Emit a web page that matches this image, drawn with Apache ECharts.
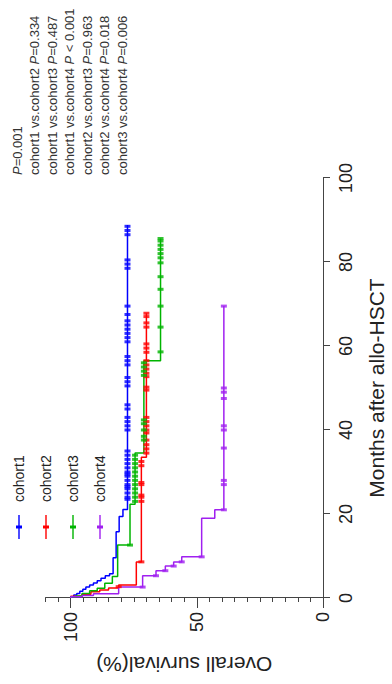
<!DOCTYPE html>
<html>
<head>
<meta charset="utf-8">
<script src="https://cdn.jsdelivr.net/npm/echarts@6/dist/echarts.min.js"></script>
<style>
html, body { margin: 0; padding: 0; background: #fff; }
body { width: 392px; height: 684px; overflow: hidden; position: relative; }
/* the plot is drawn landscape and turned a quarter turn to the left, like the scan */
#chart {
  position: absolute; left: 0; top: 0;
  width: 684px; height: 392px;
  transform-origin: 0 0;
  transform: translate(0, 684px) rotate(-90deg);
}
</style>
</head>
<body>
<div id="chart"></div>
<script>
// Kaplan-Meier steps: time (months) where survival changes, survival (%) after it
var c1Time = [0, 0.3, 0.7, 1.1, 1.6, 2.1, 2.6, 3.1, 3.6, 4.1, 4.7, 5.3, 5.8, 9.6, 15.8, 19.4, 21.1];
var c1Surv = [100, 98.8, 97.6, 96.4, 95.2, 94, 92.5, 91, 89.5, 88, 86.3, 84.6, 83.2, 82, 80.8, 79.3, 77.5];
var c1End = 88.8;
var c1Cens = [23.5, 24, 25, 26, 26.5, 27, 28, 29, 29.5, 30, 31, 32, 33, 34, 35, 40, 41, 42, 43, 45, 46,
              50.5, 51.5, 52.5, 55.5, 56.5, 57.5, 61, 62, 63, 64, 65, 66, 67.5, 69.5, 78.5, 79.5, 80.5, 86.5, 87.5, 88.5];

var c2Time = [0, 0.4, 0.9, 1.5, 1.9, 2.4, 3.1, 8.6, 33.5];
var c2Surv = [100, 95.5, 92, 88.5, 85, 81, 74, 72, 70];
var c2End = 67.8;
var c2Cens = [2.7, 8.6, 23, 24, 24.5, 27, 27.5, 31.5, 32.5, 34.5, 35.5, 36.5, 37.6, 39.3, 40, 41, 42, 43,
              49.5, 50.2, 52.7, 53.5, 54.5, 55.5, 56.5, 58.5, 59.5, 60.5, 64.5, 65.5, 67, 67.8];

var c3Time = [0, 0.3, 0.5, 1.1, 1.7, 2.3, 3.5, 5.1, 12.6, 22.3, 34.5, 56.5];
var c3Surv = [100, 98, 95.5, 92.5, 89.5, 86.5, 83.5, 81.4, 76.5, 74.5, 71, 64.4];
var c3End = 85.6;
var c3Cens = [12.6, 23, 24, 25, 26, 27, 28, 29, 30, 31, 32, 33, 34, 37.6, 38.5, 40, 41.5, 42.4,
              53, 54, 55, 56, 58.6, 64.5, 69.5, 73.5, 76.5, 79.8, 81, 82, 83, 84, 85, 85.6];

var c4Time = [0, 0.3, 0.6, 1.0, 2.6, 5.3, 6.5, 7.6, 8.6, 9.8, 19.0, 21.0];
var c4Surv = [100, 95.5, 91, 81, 71.5, 66.2, 62.5, 59.2, 56, 48.1, 42.9, 39.3];
var c4End = 69.5;
var c4Cens = [2.6, 5.3, 6.5, 7.6, 8.6, 9.8, 21, 27, 28, 35.7, 40, 41, 47.5, 49, 50, 69.5];

var cohorts = ['cohort1', 'cohort2', 'cohort3', 'cohort4'];
var colors = ['#0000ff', '#ff0000', '#00b400', '#a020f0'];
var survTicks = [0, 50, 100];
var pLines = [
  '{i|P}=0.001',
  'cohort1 vs.cohort2 {i|P}=0.334',
  'cohort1 vs.cohort3 {i|P}=0.487',
  'cohort1 vs.cohort4 {i|P} < 0.001',
  'cohort2 vs.cohort3 {i|P}=0.963',
  'cohort2 vs.cohort4 {i|P}=0.018',
  'cohort3 vs.cohort4 {i|P}=0.006'
];

var FONT = "'Liberation Sans', Arial, Helvetica, sans-serif";
// legend key: short line with a censor tick in the middle
var KEY_ICON = 'path://M0,3.3L24,3.3L24,4.7L0,4.7Z M10.5,1L13.5,1L13.5,7L10.5,7Z';

function stepData(times, surv, end) {
  var d = times.map(function (t, i) { return [t, surv[i]]; });
  d.push([end, surv[surv.length - 1]]);
  return d;
}
function survAt(times, surv, t) {
  var s = surv[0];
  for (var i = 0; i < times.length; i++) { if (times[i] <= t) s = surv[i]; }
  return s;
}
function censData(times, surv, cens) {
  return cens.map(function (t) { return [t, survAt(times, surv, t)]; });
}

var groups = [
  [c1Time, c1Surv, c1End, c1Cens],
  [c2Time, c2Surv, c2End, c2Cens],
  [c3Time, c3Surv, c3End, c3Cens],
  [c4Time, c4Surv, c4End, c4Cens]
];

var series = [];
groups.forEach(function (g, k) {
  series.push({
    name: cohorts[k], type: 'line', step: 'end',
    data: stepData(g[0], g[1], g[2]),
    showSymbol: false, symbol: 'none',
    lineStyle: { width: 1.5, color: colors[k] },
    itemStyle: { color: colors[k] },
    z: 2 + k
  });
});
groups.forEach(function (g, k) {
  series.push({
    name: cohorts[k] + ' censored', type: 'scatter',
    data: censData(g[0], g[1], g[3]),
    symbol: 'rect', symbolSize: [3, 6],
    itemStyle: { color: colors[k] },
    z: 10 + k
  });
});

var chart = echarts.init(document.getElementById('chart'), null, { renderer: 'svg' });
chart.setOption({
  animation: false,
  backgroundColor: '#fff',
  textStyle: { fontFamily: FONT },
  grid: { left: 86, right: 178, top: 45.5, bottom: 66, containLabel: false },
  legend: {
    data: cohorts.map(function (n) { return { name: n, icon: KEY_ICON }; }),
    orient: 'vertical', left: 145, top: 12, padding: 0,
    itemWidth: 24, itemHeight: 8, itemGap: 13,
    textStyle: { fontSize: 14, color: '#222', fontFamily: FONT, padding: [0, 0, 0, 8] }
  },
  xAxis: {
    type: 'value', min: 0, max: 100, interval: 20,
    axisLine: { show: true, onZero: false, lineStyle: { color: '#444', width: 1 } },
    axisTick: { show: true, length: 7, lineStyle: { color: '#444' } },
    axisLabel: { fontSize: 18, color: '#222', margin: 14, fontFamily: FONT },
    splitLine: { show: false },
    name: 'Months after allo-HSCT', nameLocation: 'middle', nameGap: 43,
    nameTextStyle: { fontSize: 21, color: '#222', fontFamily: FONT }
  },
  yAxis: [{
    type: 'value', position: 'left', min: 0, max: 110, interval: 5, offset: 2,
    axisLine: { show: true, lineStyle: { color: '#444', width: 1 } },
    axisTick: { show: true, length: 4, lineStyle: { color: '#444' } },
    axisLabel: { show: false },
    splitLine: { show: false },
    name: 'Overall survival(%)', nameLocation: 'middle', nameGap: 54,
    nameTextStyle: { fontSize: 21, color: '#222', fontFamily: FONT }
  }, {
    type: 'value', position: 'left', min: 0, max: 110, interval: 50, offset: 2,
    axisLine: { show: false },
    axisTick: { show: true, length: 8, customValues: survTicks, lineStyle: { color: '#444' } },
    axisLabel: { customValues: survTicks, fontSize: 18, color: '#222', margin: 12, fontFamily: FONT },
    splitLine: { show: false }
  }],
  graphic: pLines.map(function (txt, i) {
    return {
      type: 'text', x: 509, y: 17 + i * 17.5, silent: true,
      style: {
        text: txt, fill: '#333', font: '13px ' + FONT,
        verticalAlign: 'middle', align: 'left',
        rich: { i: { fontStyle: 'italic', fontSize: 13, fontFamily: FONT, fill: '#333' } }
      }
    };
  }),
  series: series
});
</script>
</body>
</html>
